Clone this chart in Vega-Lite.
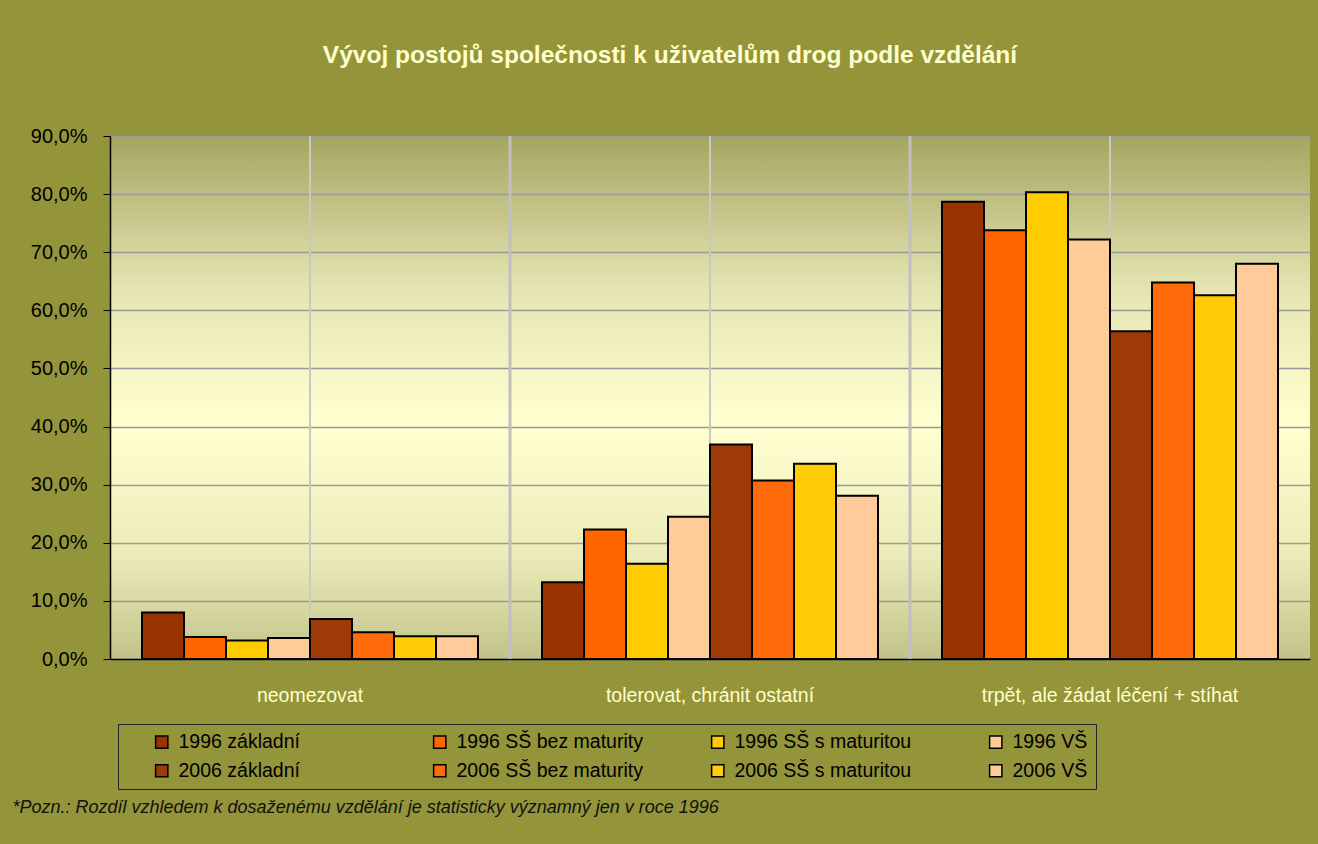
{
  "$schema": "https://vega.github.io/schema/vega-lite/v6.json",
  "width": 1200,
  "height": 523,
  "autosize": {"type": "none"},
  "padding": {"left": 110, "top": 136, "right": 8, "bottom": 185},
  "background": "#94943a",
  "view": {
    "stroke": null,
    "fill": {
      "gradient": "linear", "x1": 0, "y1": 0, "x2": 0, "y2": 1,
      "stops": [
        {"offset": 0, "color": "#a5a562"},
        {"offset": 0.3, "color": "#e6e6b4"},
        {"offset": 0.55, "color": "#ffffd0"},
        {"offset": 0.8, "color": "#ececba"},
        {"offset": 1, "color": "#c2c28a"}
      ]
    }
  },
  "title": {
    "text": "Vývoj postojů společnosti k uživatelům drog podle vzdělání",
    "anchor": "middle",
    "frame": "group",
    "dx": -40,
    "offset": 39,
    "baseline": "alphabetic",
    "font": "Liberation Sans, Arial, sans-serif",
    "fontSize": 24.5,
    "fontWeight": "bold",
    "color": "#ffffcc"
  },
  "data": {
    "values": [
      {"cat": "neomezovat", "series": "1996 základní", "value": 8.0},
      {"cat": "neomezovat", "series": "1996 SŠ bez maturity", "value": 3.8},
      {"cat": "neomezovat", "series": "1996 SŠ s maturitou", "value": 3.2},
      {"cat": "neomezovat", "series": "1996 VŠ", "value": 3.6},
      {"cat": "neomezovat", "series": "2006 základní", "value": 6.9},
      {"cat": "neomezovat", "series": "2006 SŠ bez maturity", "value": 4.6},
      {"cat": "neomezovat", "series": "2006 SŠ s maturitou", "value": 3.9},
      {"cat": "neomezovat", "series": "2006 VŠ", "value": 3.9},
      {"cat": "tolerovat, chránit ostatní", "series": "1996 základní", "value": 13.2},
      {"cat": "tolerovat, chránit ostatní", "series": "1996 SŠ bez maturity", "value": 22.3},
      {"cat": "tolerovat, chránit ostatní", "series": "1996 SŠ s maturitou", "value": 16.4},
      {"cat": "tolerovat, chránit ostatní", "series": "1996 VŠ", "value": 24.5},
      {"cat": "tolerovat, chránit ostatní", "series": "2006 základní", "value": 36.9},
      {"cat": "tolerovat, chránit ostatní", "series": "2006 SŠ bez maturity", "value": 30.7},
      {"cat": "tolerovat, chránit ostatní", "series": "2006 SŠ s maturitou", "value": 33.6},
      {"cat": "tolerovat, chránit ostatní", "series": "2006 VŠ", "value": 28.1},
      {"cat": "trpět, ale žádat léčení + stíhat", "series": "1996 základní", "value": 78.7},
      {"cat": "trpět, ale žádat léčení + stíhat", "series": "1996 SŠ bez maturity", "value": 73.8},
      {"cat": "trpět, ale žádat léčení + stíhat", "series": "1996 SŠ s maturitou", "value": 80.3},
      {"cat": "trpět, ale žádat léčení + stíhat", "series": "1996 VŠ", "value": 72.2},
      {"cat": "trpět, ale žádat léčení + stíhat", "series": "2006 základní", "value": 56.4},
      {"cat": "trpět, ale žádat léčení + stíhat", "series": "2006 SŠ bez maturity", "value": 64.8},
      {"cat": "trpět, ale žádat léčení + stíhat", "series": "2006 SŠ s maturitou", "value": 62.6},
      {"cat": "trpět, ale žádat léčení + stíhat", "series": "2006 VŠ", "value": 68.0}
    ]
  },
  "layer": [
    {
      "data": {"values": [
        {"cat": "neomezovat"},
        {"cat": "tolerovat, chránit ostatní"},
        {"cat": "trpět, ale žádat léčení + stíhat"}
      ]},
      "mark": {"type": "rule", "color": "#c8c8c8", "strokeWidth": 2},
      "encoding": {
        "x": {"field": "cat", "type": "nominal", "sort": null}
      }
    },
    {
      "data": {"values": [
        {"cat": "tolerovat, chránit ostatní"},
        {"cat": "trpět, ale žádat léčení + stíhat"}
      ]},
      "mark": {"type": "rule", "color": "#c0c0c0", "strokeWidth": 3},
      "encoding": {
        "x": {"field": "cat", "type": "nominal", "sort": null, "bandPosition": -0.0952381}
      }
    },
    {
      "data": {"values": [
        {"cat": "trpět, ale žádat léčení + stíhat"}
      ]},
      "mark": {"type": "rule", "color": "#9a9a9a", "strokeWidth": 3},
      "encoding": {
        "x": {"field": "cat", "type": "nominal", "sort": null, "bandPosition": 1.1904762}
      }
    },
    {
      "mark": {"type": "bar", "stroke": "#000000", "strokeWidth": 2},
      "encoding": {
        "x": {
          "field": "cat", "type": "nominal", "sort": null,
          "scale": {"paddingInner": 0.16, "paddingOuter": 0.08},
          "axis": {
            "title": "*Pozn.: Rozdíl vzhledem k dosaženému vzdělání je statisticky významný jen v roce 1996",
            "labelAngle": 0,
            "labelAlign": "center",
            "labelFont": "Liberation Sans, Arial, sans-serif",
            "labelFontSize": 19.5,
            "labelColor": "#ffffcc",
            "labelPadding": 36,
            "labelLimit": 500,
            "ticks": false,
            "domainColor": "#000000",
            "domainWidth": 1.5,
            "grid": false,
            "titleFont": "Liberation Sans, Arial, sans-serif",
            "titleFontStyle": "italic",
            "titleFontWeight": "normal",
            "titleFontSize": 18,
            "titleColor": "#111111",
            "titleAnchor": "start",
            "titleAlign": "left",
            "titleBaseline": "alphabetic",
            "titleX": -98,
            "titleY": 153
          }
        },
        "xOffset": {
          "field": "series", "type": "nominal", "sort": null,
          "scale": {"paddingInner": 0, "paddingOuter": 0}
        },
        "y": {
          "field": "value", "type": "quantitative",
          "scale": {"domain": [0, 90], "nice": false},
          "axis": {
            "title": null,
            "values": [0, 10, 20, 30, 40, 50, 60, 70, 80, 90],
            "labelExpr": "replace(format(datum.value, '.1f'), '.', ',') + '%'",
            "labelFont": "Liberation Sans, Arial, sans-serif",
            "labelFontSize": 20,
            "labelColor": "#000000",
            "labelPadding": 16,
            "tickSize": 7,
            "tickColor": "#000000",
            "domainColor": "#000000",
            "domainWidth": 1.5,
            "gridColor": "#9a9a9a",
            "gridWidth": 1.5
          }
        },
        "color": {
          "field": "series", "type": "nominal", "sort": null,
          "scale": {
            "domain": ["1996 základní", "1996 SŠ bez maturity", "1996 SŠ s maturitou", "1996 VŠ", "2006 základní", "2006 SŠ bez maturity", "2006 SŠ s maturitou", "2006 VŠ"],
            "range": ["#993300", "#ff6600", "#ffcc00", "#ffcc99", "#9e3908", "#ff6b0a", "#ffcc05", "#ffcb9a"]
          },
          "legend": {
            "orient": "none",
            "legendX": 8,
            "legendY": 588,
            "direction": "horizontal",
            "columns": 4,
            "gridAlign": "all",
            "columnPadding": 65,
            "rowPadding": 8,
            "title": " ",
            "titleOrient": "left",
            "titlePadding": 26,
            "padding": 8,
            "strokeColor": "#222222",
            "symbolType": "square",
            "symbolSize": 150,
            "symbolStrokeColor": "#000000",
            "symbolStrokeWidth": 1.5,
            "symbolOpacity": 1,
            "labelFont": "Liberation Sans, Arial, sans-serif",
            "labelFontSize": 19.5,
            "labelColor": "#000000",
            "labelOffset": 7,
            "labelLimit": 400
          }
        }
      }
    }
  ]
}
